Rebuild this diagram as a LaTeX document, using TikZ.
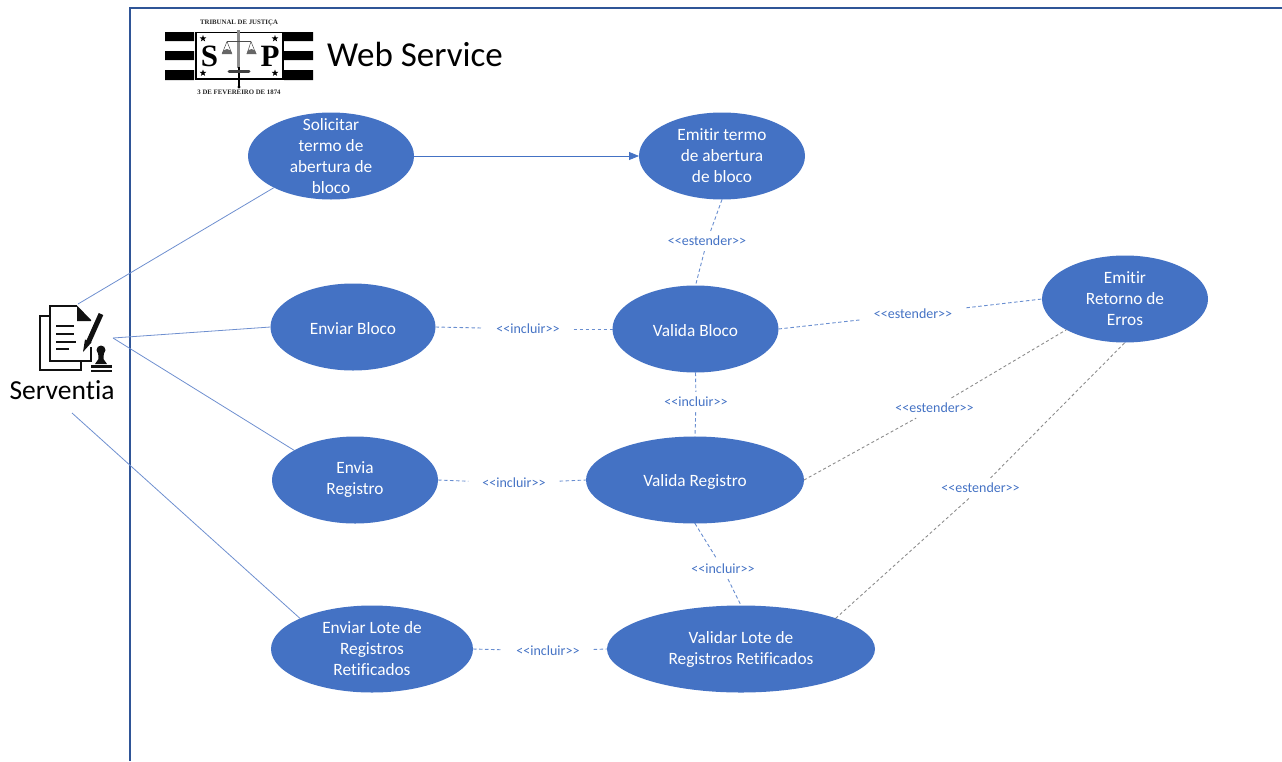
\documentclass[tikz,border=0pt]{standalone}
\usepackage{fontspec}
\setmainfont[Ligatures=NoCommon]{Carlito}
\newfontfamily\logoserif{Liberation Serif}
\usetikzlibrary{shapes.geometric,arrows.meta}
\definecolor{ublue}{HTML}{4472C4}
\definecolor{uline}{HTML}{6E8FCF}
\definecolor{udark}{HTML}{2F5597}
\definecolor{ugray}{HTML}{8C8C8C}
\definecolor{icon}{HTML}{111111}
\tikzset{
  usecase/.style={ellipse,fill=ublue,text=white,font=\fontsize{17.3}{21}\selectfont,align=center,inner sep=0pt,outer sep=0pt,execute at begin node={\rule{0pt}{15.5pt}}},
  rellabel/.style={rectangle,text=ublue,font=\fontsize{14}{15}\selectfont,inner xsep=14pt,inner ysep=5pt},
  assoc/.style={uline,line width=0.8pt},
  dep/.style={ublue!80,line width=0.9pt,dash pattern=on 3.5pt off 2.5pt},
  depgray/.style={ugray,line width=0.9pt,dash pattern=on 3pt off 2.5pt},
  flow/.style={ublue,line width=0.8pt,-{Triangle[length=10pt,width=8pt]}},
  logostar/.style={star,star points=5,star point ratio=2.4,fill=black,inner sep=0pt,minimum size=7pt},
  logotext/.style={font=\logoserif\bfseries\fontsize{6.8}{7}\selectfont,text=black!85,inner sep=0pt},
  logoletter/.style={font=\logoserif\bfseries\fontsize{31}{32}\selectfont,text=black,inner sep=0pt},
}
\begin{document}
\begin{tikzpicture}[x=1pt,y=-1pt]
\useasboundingbox (0,0) rectangle (1282,761);
% frame
\draw[udark,line width=1.2pt] (130,761) -- (130,8) -- (1282,8);

% logo
\fill[black] (165,32) rectangle (194,41) (165,51) rectangle (194,60) (165,70) rectangle (194,80);
\fill[black] (284,32) rectangle (313,41) (284,51) rectangle (313,60) (284,70) rectangle (313,80);
\draw[black,line width=1.2pt] (196,32.5) rectangle (283,79);
\node[logotext] (logotop) at (239,22.5) {TRIBUNAL DE JUSTIÇA};
\node[logotext] (logobottom) at (239,92) {3 DE FEVEREIRO DE 1874};
\node[logoletter] (logoS) at (209.5,56) {S};
\node[logoletter] (logoP) at (270,56) {P};
\node[logostar] (s1) at (203,38.5) {};
\node[logostar] (s2) at (275,38.5) {};
\node[logostar] (s3) at (203,73) {};
\node[logostar] (s4) at (275,73) {};
\draw[black!45,line width=3pt] (238.5,30) -- (238.5,68);
\draw[black,line width=1.8pt] (239,67) -- (239,87);
\draw[black!75,line width=3pt,line cap=round] (229,71.5) -- (249,71.5);
\fill[black] (239,87) circle (1.6);
\draw[black!70,line width=0.7pt] (227,41.5) -- (251,41.5);
\draw[black!70,line width=0.5pt] (227,41.5) -- (222,54) (227,41.5) -- (232,54) (251,41.5) -- (247,54) (251,41.5) -- (256,54);
\fill[black!60] (222,54) arc[start angle=180,end angle=360,radius=5] -- cycle;
\fill[black!60] (246.5,54) arc[start angle=180,end angle=360,radius=5] -- cycle;

% title
\node[font=\fontsize{35}{40}\selectfont,inner sep=0pt,anchor=west] (title) at (327,54) {Web Service};

% actor icon
\draw[icon,line width=2pt,line join=miter] (49,315.5) -- (39.8,315.5) -- (39.8,370) -- (81,370) -- (81,361);
\draw[icon,line width=2pt,line join=miter] (77,306) -- (49.8,306) -- (49.8,361) -- (91,361) -- (91,347);
\fill[icon] (77,305.5) -- (91,320) -- (91,321) -- (77,321) -- cycle;
\draw[icon,line width=2pt] (56,326) -- (74,326) (56,334) -- (74,334) (56,342) -- (76,342) (56,349) -- (69,349);
\draw[icon,line width=5pt] (101,314) -- (88.5,342);
\fill[icon] (85,339.5) -- (91.5,342.5) -- (83,352) -- cycle;
\fill[icon] (101,350) circle (4.5);
\fill[icon] (98,351) -- (104,351) -- (103.5,359) -- (107,364) -- (95,364) -- (98.5,359) -- cycle;
\fill[icon] (91,364.5) rectangle (112,368);
\fill[icon] (91,370) rectangle (112,372);
\coordinate (actorTop) at (78,304);
\coordinate (actorRight) at (113,338);
\coordinate (actorBottom) at (72,413);
\node[font=\fontsize{27.5}{30}\selectfont,inner sep=0pt] (serventia) at (62,390) {Serventia};

% use cases
\node[usecase,inner ysep=-12pt,minimum width=166pt,minimum height=87pt] (sol) at (331,156) {Solicitar\\termo de\\abertura de\\bloco};
\node[usecase,minimum width=166pt,minimum height=87pt] (emt) at (722,156) {Emitir termo\\de abertura\\de bloco};
\node[usecase,minimum width=165pt,minimum height=87pt] (env) at (353,327) {Enviar Bloco};
\node[usecase,minimum width=166pt,minimum height=87pt] (vbl) at (695.5,329) {Valida Bloco};
\node[usecase,minimum width=166pt,minimum height=87pt] (ret) at (1125,299) {Emitir\\Retorno de\\Erros};
\node[usecase,minimum width=166pt,minimum height=87pt] (enr) at (355,480) {Envia\\Registro};
\node[usecase,minimum width=218pt,minimum height=87pt] (vrg) at (695,480) {Valida Registro};
\node[usecase,minimum width=202pt,minimum height=87pt] (enl) at (372,649) {Enviar Lote de\\Registros\\Retificados};
\node[usecase,minimum width=268pt,minimum height=87pt] (vlt) at (741,649) {Validar Lote de\\Registros Retificados};

% relation labels
\node[rellabel] (l1) at (707,241) {<{}<estender>{}>};
\node[rellabel] (l2) at (528,329) {<{}<incluir>{}>};
\node[rellabel] (l3) at (913,314) {<{}<estender>{}>};
\node[rellabel] (l4) at (696,402) {<{}<incluir>{}>};
\node[rellabel] (l5) at (514,483) {<{}<incluir>{}>};
\node[rellabel] (l6) at (934.5,408) {<{}<estender>{}>};
\node[rellabel] (l7) at (723,569) {<{}<incluir>{}>};
\node[rellabel] (l8) at (980.5,488) {<{}<estender>{}>};
\node[rellabel] (l9) at (548,651) {<{}<incluir>{}>};

% actor associations
\draw[assoc] (actorTop) -- (sol.209);
\draw[assoc] (actorRight) -- (env.west);
\draw[assoc] (actorRight) -- (enr.154);
\draw[assoc] (actorBottom) -- (enl.157);

% flow
\draw[flow] (sol.east) -- (emt.west);

% dependencies
\draw[dep] (emt.south) -- (l1);
\draw[dep] (l1) -- (vbl.north);
\draw[dep] (env.east) -- (l2);
\draw[dep] (l2) -- (vbl.west);
\draw[dep] (vbl.east) -- (l3);
\draw[dep] (l3) -- (ret.west);
\draw[dep] (vbl.south) -- (l4);
\draw[dep] (l4) -- (vrg.north);
\draw[dep] (enr.east) -- (l5);
\draw[dep] (l5) -- (vrg.west);
\draw[dep] (vrg.south) -- (l7);
\draw[dep] (l7) -- (vlt.north);
\draw[dep] (enl.east) -- (l9);
\draw[dep] (l9) -- (vlt.west);
\draw[depgray] (vrg.east) -- (l6);
\draw[depgray] (l6) -- (ret.south west);
\draw[depgray] (vlt.north east) -- (l8);
\draw[depgray] (l8) -- (ret.south);
\end{tikzpicture}
\end{document}
